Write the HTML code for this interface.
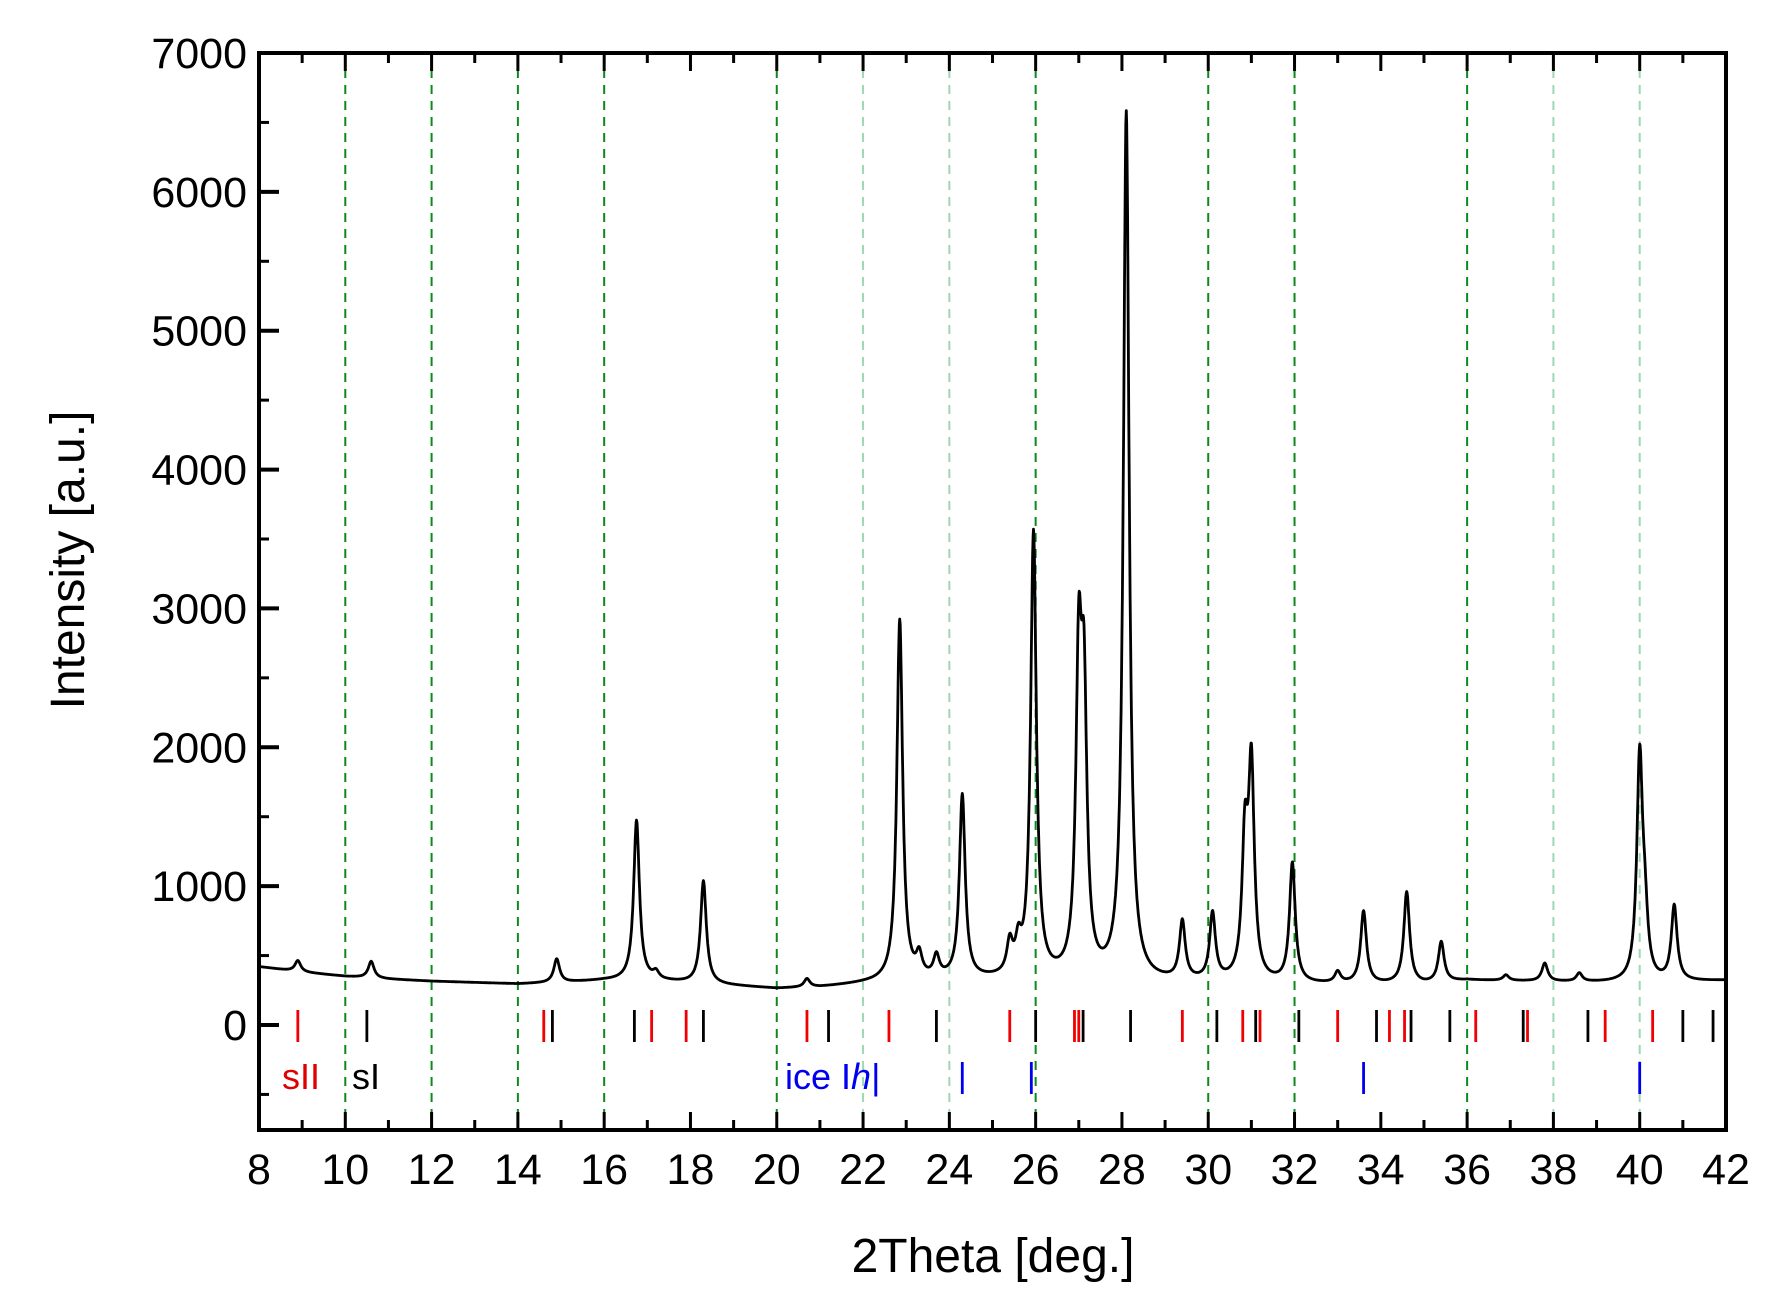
<!DOCTYPE html>
<html><head><meta charset="utf-8"><style>
body{margin:0;background:#fff}
svg text{font-family:"Liberation Sans",Arial,sans-serif}
</style></head><body>
<svg id="chart" width="1790" height="1306" viewBox="0 0 1790 1306" xmlns="http://www.w3.org/2000/svg">
<rect width="1790" height="1306" fill="#fff"/>
<g id="grid"></g>
<g id="markers"></g>
<path id="curve" fill="none" stroke="#000" stroke-width="2.8" stroke-linejoin="round"/>
<g id="axes"></g>
<text x="282" y="1089" font-size="36" fill="#e00000">sII</text>
<text x="352" y="1089" font-size="36" fill="#000">sI</text>
<text x="785" y="1089" font-size="36" fill="#0000ee">ice I<tspan font-style="italic">h</tspan>|</text>
<text x="993" y="1272" font-size="48" text-anchor="middle">2Theta [deg.]</text>
<text transform="translate(84,560) rotate(-90)" font-size="48" text-anchor="middle">Intensity [a.u.]</text>
</svg>
<script>
const xTicks=[8,10,12,14,16,18,20,22,24,26,28,30,32,34,36,38,40,42];
const yTicks=[0,1000,2000,3000,4000,5000,6000,7000];
const darkGrid=[10,12,14,16,20,26,30,32,36];
const lightGrid=[22,24,38,40];
const baseX=[8,9,10,11,12,13,14,15,16,17,18,19,20,21,22,23,24,25,26,27,28,29,30,31,32,33,34,35,36,38,40,42];
const baseY=[420,380,350,330,315,305,295,305,320,320,300,280,260,270,295,310,320,320,320,310,300,300,300,300,290,290,290,290,320,310,300,320];
const peakPos=[8.9,10.6,14.9,16.75,17.2,18.3,20.7,22.85,23.3,23.7,24.3,25.4,25.6,25.95,27.0,27.12,28.1,29.4,30.1,30.85,31.0,31.95,33.0,33.6,34.6,35.4,36.9,37.8,38.6,40.0,40.12,40.8];
const peakH=[80,120,170,1150,50,740,60,2600,150,150,1320,220,200,3200,2150,1850,6250,420,480,950,1500,860,80,520,660,290,40,130,60,1600,380,540];
const sII=[8.9,14.6,17.1,17.9,20.7,22.6,25.4,26.9,27.0,29.4,30.8,31.2,33.0,34.2,34.55,36.2,37.4,39.2,40.3];
const sI=[10.5,14.8,16.7,18.3,21.2,23.7,26.0,27.1,28.2,30.2,31.1,32.1,33.9,34.7,35.6,37.3,38.8,41.0,41.7];
const iceIh=[24.3,25.9,33.6,40.0];

const L=259,R=1726,T=53,B=1130;
const X=v=>L+(v-8)*(R-L)/34;
const Y=v=>1025-v*(1025-T)/7000;
const NS='http://www.w3.org/2000/svg';
function mk(tag,attrs,parent){const e=document.createElementNS(NS,tag);for(const k in attrs)e.setAttribute(k,attrs[k]);parent.appendChild(e);return e;}
const grid=document.getElementById('grid');
darkGrid.forEach(v=>{const l=mk('line',{x1:X(v),x2:X(v),y1:T,y2:B,stroke:'#0a8a1a','stroke-width':2,'stroke-dasharray':'9,7'},grid);

});
lightGrid.forEach(v=>{const l=mk('line',{x1:X(v),x2:X(v),y1:T,y2:B,stroke:'#9ed8b0','stroke-width':2,'stroke-dasharray':'9,7'},grid);

});
const mg=document.getElementById('markers');
function marks(arr,col,y1,y2,name){arr.forEach(v=>{const l=mk('line',{x1:X(v),x2:X(v),y1:y1,y2:y2,stroke:col,'stroke-width':2.8},mg);

});}
marks(sII,'#f00000',1010,1042,'sII-marker');
marks(sI,'#000',1010,1042,'sI-marker');
marks(iceIh,'#0000ee',1062,1094,'ice-marker');
function base(x){for(let i=0;i<baseX.length-1;i++){if(x<=baseX[i+1]){const t=(x-baseX[i])/(baseX[i+1]-baseX[i]);return baseY[i]+t*(baseY[i+1]-baseY[i]);}}return baseY[baseY.length-1];}
let d='';const w=0.08;
for(let x=8;x<=42.0001;x+=0.01){let y=base(x);for(let i=0;i<peakPos.length;i++){const u=(x-peakPos[i])/w;y+=peakH[i]/(1+u*u);}d+=(d?'L':'M')+X(x).toFixed(1)+','+Y(y).toFixed(1);}
document.getElementById('curve').setAttribute('d',d);
const ax=document.getElementById('axes');
mk('rect',{x:L,y:T,width:R-L,height:B-T,fill:'none',stroke:'#000','stroke-width':4},ax);
xTicks.forEach(v=>{mk('line',{x1:X(v),x2:X(v),y1:B,y2:B-18,stroke:'#000','stroke-width':3},ax);mk('line',{x1:X(v),x2:X(v),y1:T,y2:T+18,stroke:'#000','stroke-width':3},ax);
const t=mk('text',{x:X(v),y:B+54,'font-size':43,'text-anchor':'middle'},ax);t.textContent=v;


if(v<42){const m=v+1;mk('line',{x1:X(m),x2:X(m),y1:B,y2:B-10,stroke:'#000','stroke-width':3},ax);mk('line',{x1:X(m),x2:X(m),y1:T,y2:T+10,stroke:'#000','stroke-width':3},ax);}});
yTicks.forEach(v=>{mk('line',{x1:L,x2:L+20,y1:Y(v),y2:Y(v),stroke:'#000','stroke-width':4},ax);
const t=mk('text',{x:L-12,y:Y(v)+15,'font-size':43,'text-anchor':'end'},ax);t.textContent=v;


mk('line',{x1:L,x2:L+10,y1:Y(v-500),y2:Y(v-500),stroke:'#000','stroke-width':3},ax);});
</script>
</body></html>
